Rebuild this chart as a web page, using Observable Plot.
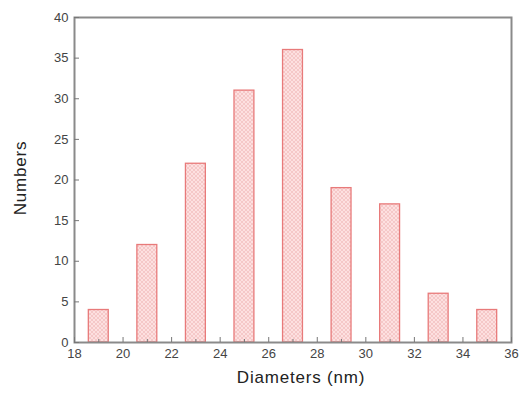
<!DOCTYPE html>
<html>
<head>
<meta charset="utf-8">
<script src="https://cdn.jsdelivr.net/npm/d3@7"></script>
<script src="https://cdn.jsdelivr.net/npm/@observablehq/plot@0.6"></script>
<style>
  html, body { margin: 0; padding: 0; background: #fff; }
  #chart svg { display: block; }
  .axlabel text { letter-spacing: 0.8px; }
</style>
</head>
<body>
<div id="chart"></div>
<script>
const diameters = [19, 21, 23, 25, 27, 29, 31, 33, 35];
const counts = [4, 12, 22, 31, 36, 19, 17, 6, 4];
const xTicks = [18, 20, 22, 24, 26, 28, 30, 32, 34, 36];
const xMinorTicks = [19, 21, 23, 25, 27, 29, 31, 33, 35];
const yTicks = [0, 5, 10, 15, 20, 25, 30, 35, 40];

const data = diameters.map((d, i) => ({d, n: counts[i]}));
const halfWidth = 0.41;

const plot = Plot.plot({
  width: 523,
  height: 396,
  marginLeft: 74,
  marginRight: 12,
  marginTop: 17,
  marginBottom: 54,
  style: {fontFamily: "Liberation Sans, Arial, sans-serif", fontSize: "13px", color: "#333"},
  x: {domain: [18, 36]},
  y: {domain: [0, 40]},
  marks: [
    Plot.rectY(data, {x1: d => d.d - halfWidth, x2: d => d.d + halfWidth, y: "n", fill: "url(#hatch)", stroke: "#e87a7a", strokeWidth: 1.3}),
    Plot.frame({stroke: "#8a8a8a", strokeWidth: 2}),
    Plot.axisX(xTicks, {tickSize: -5, tickPadding: 11, stroke: "#777", fill: "#444", fontSize: 13, label: null}),
    Plot.axisX(xMinorTicks, {tickSize: -3, tickFormat: () => "", stroke: "#777", label: null}),
    Plot.axisY(yTicks, {tickSize: -5, tickPadding: 11, stroke: "#777", fill: "#444", fontSize: 13, label: null}),
    Plot.text(["Diameters (nm)"], {frameAnchor: "bottom", dx: 8, dy: 40, fontSize: 17, fill: "#222", className: "axlabel"}),
    Plot.text(["Numbers"], {frameAnchor: "left", textAnchor: "middle", dx: -54, dy: -2, rotate: -90, fontSize: 17, fill: "#222", className: "axlabel"})
  ]
});

const ns = "http://www.w3.org/2000/svg";
const defs = document.createElementNS(ns, "defs");
defs.innerHTML = `<pattern id="hatch" patternUnits="userSpaceOnUse" width="4" height="4">
  <rect width="4" height="4" fill="#fde0e0"/>
  <path d="M0,0 L4,4 M4,0 L0,4" stroke="#f0b8b8" stroke-width="0.6"/>
</pattern>`;
plot.insertBefore(defs, plot.firstChild);
document.getElementById("chart").appendChild(plot);
</script>
</body>
</html>
